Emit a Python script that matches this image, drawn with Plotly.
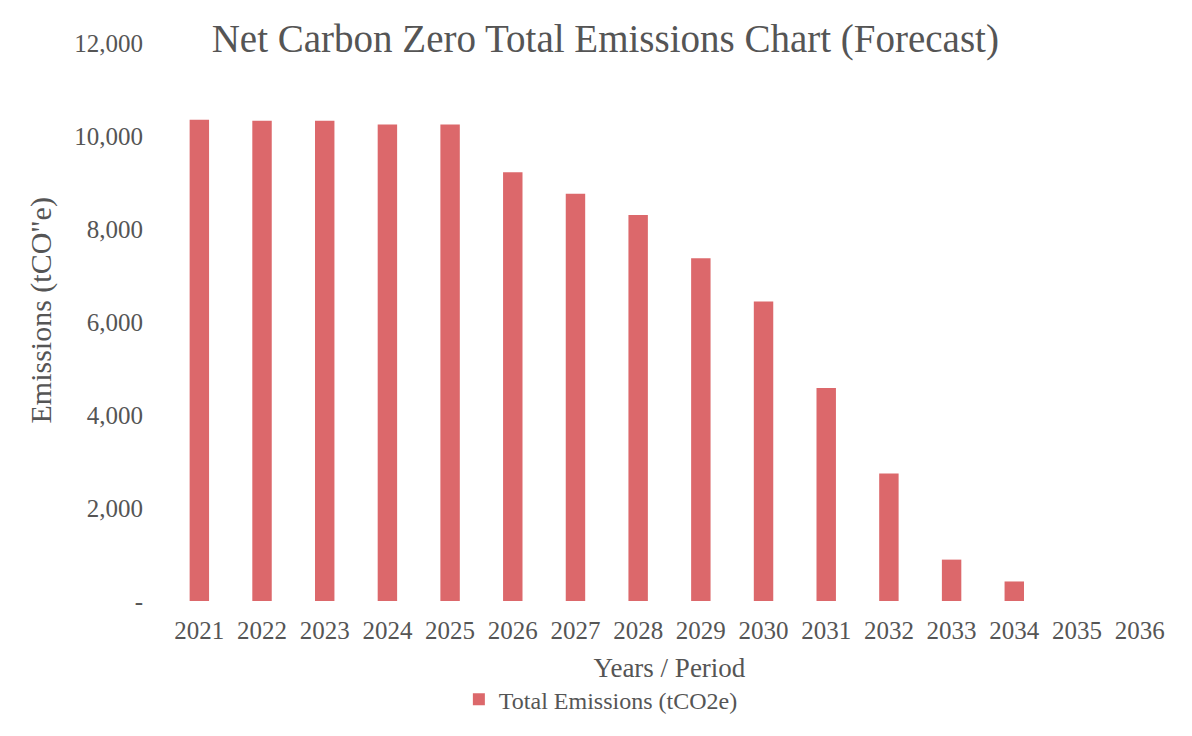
import plotly.graph_objects as go

years = ["2021", "2022", "2023", "2024", "2025", "2026", "2027", "2028",
         "2029", "2030", "2031", "2032", "2033", "2034", "2035", "2036"]
emissions = [10350, 10330, 10330, 10250, 10250, 9220, 8760, 8300,
             7370, 6440, 4580, 2740, 890, 420, 0, 0]
y_tick_vals = [0, 2000, 4000, 6000, 8000, 10000, 12000]
y_tick_text = ["-", "2,000", "4,000", "6,000", "8,000", "10,000", "12,000"]

FONT = "Liberation Serif"
GREY = "#555555"
BAR = "#dc686b"

W, H = 1184, 728

fig = go.Figure()
fig.add_trace(go.Bar(
    x=years, y=emissions, name="Total Emissions (tCO2e)",
    marker=dict(color=BAR, line=dict(width=0)), width=0.31,
    showlegend=True,
))

fig.update_layout(
    width=W, height=H,
    paper_bgcolor="white", plot_bgcolor="white",
    margin=dict(l=160, r=21, t=35, b=135),
    font=dict(family=FONT, color=GREY, size=24),
    title=dict(text="Net Carbon Zero Total Emissions Chart (Forecast)",
               font=dict(family=FONT, size=39, color=GREY),
               x=0.436, xref="paper", xanchor="center",
               y=1 - 30 / H, yref="container", yanchor="middle"),
    xaxis=dict(type="category", showgrid=False, showline=False, zeroline=False,
               automargin=False, ticks="", ticklabelstandoff=12,
               tickfont=dict(family=FONT, size=25, color=GREY),
               title=dict(text="Years / Period", standoff=15,
                          font=dict(family=FONT, size=27, color=GREY))),
    yaxis=dict(range=[0, 12000], tickvals=y_tick_vals, ticktext=y_tick_text,
               showgrid=False, showline=False, zeroline=False,
               automargin=False, ticks="", ticklabelstandoff=24,
               tickfont=dict(family=FONT, size=25, color=GREY)),
    legend=dict(orientation="h", x=0.29, xanchor="left", y=-0.177, yanchor="middle",
                font=dict(family=FONT, size=24, color=GREY),
                itemwidth=30, bgcolor="rgba(0,0,0,0)"),
    annotations=[dict(text="Emissions (tCO\"e)", textangle=-90, showarrow=False,
                      xref="paper", yref="paper", x=-0.1276, y=0.5206,
                      xanchor="center", yanchor="middle",
                      font=dict(family=FONT, size=30, color=GREY))],
)

fig.write_html("out.html")
